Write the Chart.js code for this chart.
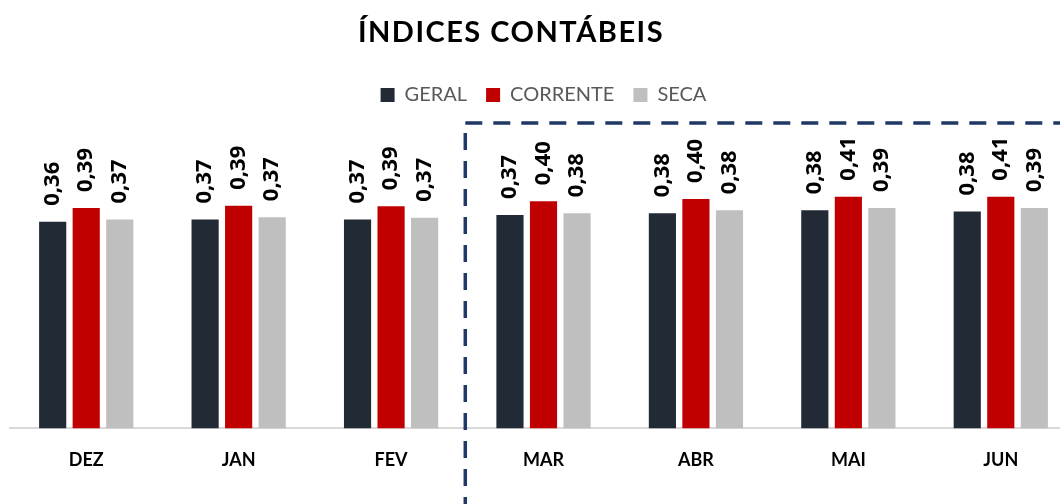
<!DOCTYPE html>
<html>
<head>
<meta charset="utf-8">
<script src="https://cdn.jsdelivr.net/npm/chart.js@4/dist/chart.umd.min.js"></script>
<style>
    html, body { margin: 0; padding: 0; background: #fff; overflow: hidden; }
    .wrap { position: relative; width: 1080px; height: 504px; }
    .title-graph {
        position: absolute; left: 311px; width: 400px; top: 13px; margin: 0;
        text-align: center; font: bold 29px Lato, sans-serif; letter-spacing: 1.5px; color: #000;
    }
</style>
</head>
<body>
<div class="wrap">
    <h1 class="title-graph">ÍNDICES CONTÁBEIS</h1>
    <canvas id="myChart"></canvas>
</div>
<script>
const months = ['DEZ', 'JAN', 'FEV', 'MAR', 'ABR', 'MAI', 'JUN'];

const geral = [0.362, 0.366, 0.366, 0.374, 0.377, 0.382, 0.380];
const corrente = [0.386, 0.390, 0.389, 0.398, 0.402, 0.406, 0.406];
const seca = [0.366, 0.370, 0.369, 0.377, 0.382, 0.386, 0.386];

// a partir de MAR fica dentro do quadro tracejado
const highlightFrom = 3;

const valueLabels = {
    id: 'valueLabels',
    afterDatasetsDraw(chart) {
        const ctx = chart.ctx;
        ctx.save();
        ctx.fillStyle = '#000';
        ctx.font = 'bold 22px "Open Sans"';
        ctx.textAlign = 'left';
        ctx.textBaseline = 'middle';
        chart.data.datasets.forEach((ds, i) => {
            chart.getDatasetMeta(i).data.forEach((bar, j) => {
                ctx.save();
                ctx.translate(bar.x, bar.y - 16);
                ctx.rotate(-Math.PI / 2);
                ctx.fillText(ds.data[j].toFixed(2).replace('.', ','), 0, 0);
                ctx.restore();
            });
        });
        ctx.restore();
    }
};

// espaço extra entre legenda e gráfico
const legendGap = {
    id: 'legendGap',
    beforeInit(chart) {
        const fitLegend = chart.legend.fit;
        chart.legend.fit = function () {
            fitLegend.bind(chart.legend)();
            this.height += 8;
        };
    }
};

const dashedBox = {
    id: 'dashedBox',
    afterDraw(chart) {
        const ctx = chart.ctx;
        const x = chart.scales.x;
        const left = (x.getPixelForValue(highlightFrom - 1) + x.getPixelForValue(highlightFrom)) / 2 - 2;
        const top = chart.chartArea.top;
        ctx.save();
        ctx.strokeStyle = '#1F3864';
        ctx.lineWidth = 3.5;
        ctx.setLineDash([17, 11]);
        ctx.beginPath();
        ctx.moveTo(left, top);
        ctx.lineTo(chart.width, top);
        ctx.stroke();
        ctx.beginPath();
        ctx.moveTo(left, top + 10);
        ctx.lineTo(left, chart.height);
        ctx.stroke();
        ctx.restore();
    }
};

const ctx = document.getElementById('myChart');
let myChart = new Chart(ctx, {
    type: 'bar',
    data: {
        labels: months,
        datasets: [
            { label: 'GERAL', data: geral, backgroundColor: '#222A35' },
            { label: 'CORRENTE', data: corrente, backgroundColor: '#C00000' },
            { label: 'SECA', data: seca, backgroundColor: '#BFBFBF' }
        ]
    },
    options: {
        responsive: true,
        maintainAspectRatio: false,
        animation: false,
        categoryPercentage: 0.66,
        barPercentage: 0.81,
        layout: {
            padding: { top: 66, left: 10, right: 3, bottom: 20 }
        },
        plugins: {
            legend: {
                labels: {
                    boxWidth: 14,
                    boxHeight: 14,
                    padding: 19,
                    color: '#595959',
                    font: { family: 'Lato', size: 20 }
                }
            },
            tooltip: { enabled: false }
        },
        scales: {
            x: {
                grid: { display: false },
                border: { display: true, color: '#D9D9D9', width: 2 },
                ticks: {
                    padding: 13,
                    color: '#000',
                    font: { family: 'Lato', size: 18, weight: 'bold' }
                }
            },
            y: {
                display: false,
                min: 0,
                max: 0.535
            }
        }
    },
    plugins: [valueLabels, legendGap, dashedBox]
});
</script>
</body>
</html>
